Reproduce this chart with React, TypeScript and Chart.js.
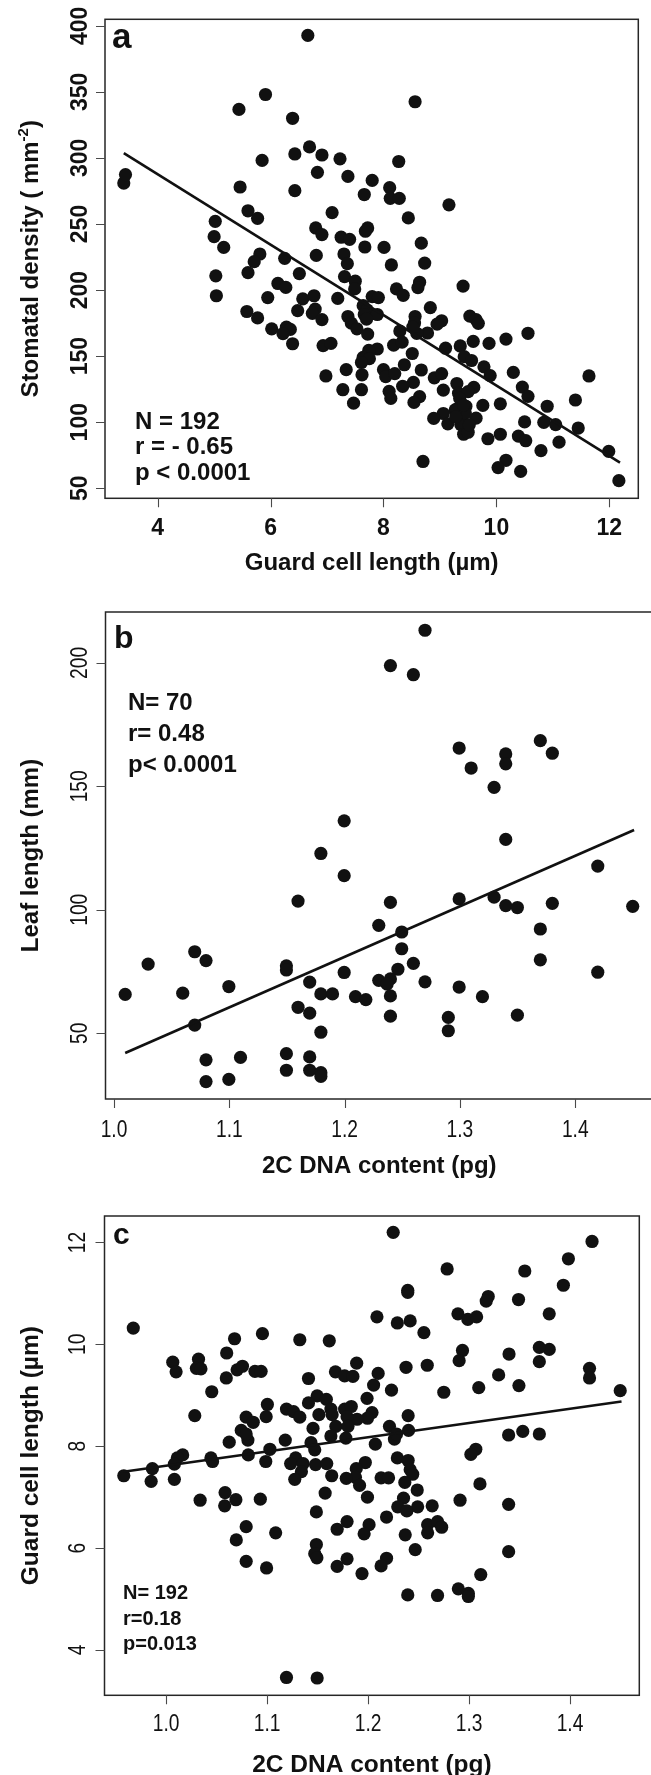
import React, { useEffect, useRef } from "react";
import { Chart, registerables } from "chart.js";
Chart.register(...registerables);

// ---------------- Panel a: guard cell length vs stomatal density ----------------
const aGuardCell = [
  3.40, 3.43, 6.66, 5.91, 5.44, 8.56, 6.39, 6.69, 6.43, 6.91, 5.85, 7.23, 8.27, 6.83, 7.37, 7.80,
  5.46, 6.43, 7.66, 8.11, 8.12, 8.28, 9.16, 5.60, 5.77, 7.09, 8.44, 5.02, 6.80, 6.91, 7.72, 7.68,
  5.00, 7.25, 7.40, 5.17, 7.67, 8.01, 8.67, 5.81, 5.71, 6.25, 6.81, 7.30, 7.36, 8.14, 8.73, 5.60,
  6.51, 5.03, 7.31, 7.50, 8.64, 8.61, 8.23, 9.41, 7.49, 6.13, 6.27, 5.04, 5.95, 6.57, 6.77, 7.19,
  7.80, 7.91, 8.35, 5.58, 5.77, 6.48, 6.79, 6.74, 6.91, 7.37, 7.43, 7.64, 7.71, 7.66, 7.89, 8.83,
  8.56, 8.55, 9.03, 8.95, 9.53, 9.64, 9.68, 6.02, 6.28, 6.35, 6.22, 7.53, 7.72, 8.29, 8.78, 8.59,
  10.56, 10.17, 6.39, 6.93, 7.07, 8.18, 8.33, 9.87, 9.59, 9.36, 9.10, 7.89, 7.74, 8.51, 7.64, 7.75,
  7.61, 9.43, 9.56, 8.37, 9.78, 7.34, 8.00, 8.67, 10.30, 11.64, 6.98, 7.62, 8.04, 8.20, 8.90, 9.03,
  9.89, 8.53, 9.30, 8.34, 10.46, 9.60, 7.28, 7.61, 9.06, 8.10, 9.33, 9.50, 10.56, 8.64, 8.13, 11.40,
  7.47, 8.54, 9.76, 10.07, 10.90, 9.27, 9.46, 9.06, 8.89, 9.14, 9.39, 9.64, 9.37, 10.50, 10.84, 11.05,
  11.45, 9.42, 9.50, 9.85, 10.07, 10.39, 10.52, 11.11, 10.79, 11.99, 8.70, 10.17, 10.03, 10.43, 12.17,
  9.30, 9.45, 9.35, 9.52, 9.28, 9.42, 7.70, 8.52,
];
const aDensity = [
  281, 287.4, 392.7, 348, 336.7, 342.5, 330, 308.3, 303, 302.2, 298.1, 299.3, 297.3, 289.1, 286, 283,
  278, 275.2, 272.3, 277.5, 269.4, 269.4, 264.5, 260, 254.3, 258.6, 254.6, 252, 247, 242, 247, 244.5,
  240.4, 240, 238.4, 232.3, 232.6, 232.3, 235.5, 227.3, 221.5, 224, 226.2, 227.3, 220, 219, 220.4, 213.2,
  212.5, 210.8, 210.2, 206.7, 205.9, 201.8, 200.9, 203, 200.9, 205, 202, 195.7, 194.3, 193.4, 195.7, 193.7,
  195.1, 194.3, 196, 183.8, 178.9, 184.4, 185.6, 182.4, 177.7, 180, 175, 188.2, 185, 181.5, 181.5, 186.7,
  180, 175, 176.8, 174.2, 180.3, 177.7, 174.8, 170.7, 171.9, 170.2, 167, 170.7, 166.7, 169, 167.5, 167.3,
  167.3, 162.9, 159.4, 158, 159.7, 158.3, 160.6, 159.7, 161.2, 157.7, 156, 155.4, 154.3, 152, 149, 148.1,
  145.2, 149.6, 146.7, 143.5, 141.9, 139.8, 139.8, 139.5, 137.7, 135, 135, 135.9, 134.5, 136.8, 133.6, 136.8,
  135.3, 130.1, 129.3, 127.2, 126.6, 126.4, 124.6, 124.6, 124.3, 123.4, 122, 123.2, 119.6, 119.4, 118, 116.8,
  114.4, 115, 112.7, 113.9, 112.1, 109.3, 112.1, 106.6, 102.9, 98.8, 104, 103.1, 98.2, 100.2, 99.9, 98.2,
  95.6, 90.9, 92.4, 87.5, 90.9, 89.5, 86, 84.9, 78.5, 77.9, 70.3, 71.2, 65.7, 62.8, 55.8,
  110, 107, 118, 98, 104, 113, 178, 172,
];
const aFitX = [3.40, 12.19];
const aFitY = [303.6, 69.4];
const aXTicks = [4, 6, 8, 10, 12];
const aYTicks = [50, 100, 150, 200, 250, 300, 350, 400];
const aNotes = ["N = 192", "r = - 0.65", "p < 0.0001"];

// ---------------- Panel b: 2C DNA content vs leaf length ----------------
const bDNA = [
  1.2697, 1.2397, 1.2596, 1.2993, 1.3097, 1.3397, 1.3397, 1.3697, 1.3801, 1.3296, 1.1996, 1.3397,
  1.1794, 1.1996, 1.4195, 1.1596, 1.2397, 1.2993, 1.3296, 1.3397, 1.3498, 1.3801, 1.4498, 1.2296,
  1.2495, 1.3697, 1.2495, 1.0700, 1.0798, 1.0296, 1.2596, 1.3697, 1.1495, 1.1495, 1.1996, 1.2462,
  1.4195, 1.2296, 1.2397, 1.2368, 1.1697, 1.2697, 1.0097, 1.0596, 1.0996, 1.2993, 1.1794, 1.1895,
  1.2094, 1.2184, 1.2397, 1.3195, 1.1596, 1.1697, 1.2397, 1.2899, 1.3498, 1.0700, 1.1794, 1.2899,
  1.1495, 1.1097, 1.0798, 1.1697, 1.1495, 1.1697, 1.1794, 1.1794, 1.0996, 1.0798,
];
const bLeafLength = [
  213.2, 198.9, 195.2, 165.5, 157.4, 163.1, 159.1, 168.5, 163.4, 149.6, 136.0, 128.5,
  122.8, 113.8, 117.7, 103.5, 103.0, 104.4, 105.1, 101.7, 100.9, 102.6, 101.4, 93.7,
  91.0, 92.2, 84.2, 83.0, 79.4, 78.0, 78.3, 79.7, 77.3, 75.6, 74.6, 75.9,
  74.7, 71.4, 72.0, 69.9, 70.7, 70.8, 65.7, 66.2, 68.9, 68.7, 65.9, 65.9,
  64.8, 63.6, 65.1, 64.8, 60.5, 58.1, 56.9, 56.4, 57.3, 53.3, 50.4, 51.0,
  41.7, 40.2, 39.2, 40.4, 35.0, 35.0, 34.0, 32.5, 31.3, 30.4,
];
const bFitX = [1.0097, 1.451];
const bFitY = [42.0, 132.3];
const bXTicks = [1.0, 1.1, 1.2, 1.3, 1.4];
const bYTicks = [50, 100, 150, 200];
const bNotes = ["N= 70", "r= 0.48", "p< 0.0001"];

// ---------------- Panel c: 2C DNA content vs guard cell length ----------------
const cDNA = [
  1.2249, 1.4218, 1.3984, 1.2783, 1.3552, 1.3934, 1.2393, 1.2393, 1.3190, 1.3170, 1.3490, 1.2890,
  1.2988, 1.3075, 1.3794, 1.2088, 1.2290, 1.2417, 1.2553, 0.9675, 1.0954, 1.0678, 1.1324, 1.1616,
  1.3794, 1.3696, 1.2935, 1.3396, 1.0600, 1.0066, 1.0099, 1.0321, 1.0300, 1.0345, 1.2902, 1.3696,
  1.2376, 1.2586, 1.1887, 1.0703, 1.0756, 1.0596, 1.0880, 1.0941, 1.1677, 1.1768, 1.1850, 1.2100,
  1.4193, 1.4193, 1.3293, 1.1410, 1.2055, 1.3494, 1.3096, 1.2232, 1.2750, 1.4497, 1.0452, 1.1990,
  1.1496, 1.1587, 1.1410, 1.1003, 1.1192, 1.1262, 1.1324, 1.1632, 1.1768, 1.1834, 1.1644, 1.1513,
  1.2039, 1.1994, 1.1891, 1.1792, 1.2397, 1.0991, 1.0793, 1.0284, 1.0863, 1.2212, 1.2401, 1.1455,
  1.1681, 1.1801, 1.0744, 1.0810, 1.0793, 1.2261, 1.2282, 1.1780, 1.1632, 1.3392, 1.3532, 1.3696,
  1.1180, 1.0625, 1.2072, 1.1435, 1.1472, 1.1028, 1.3067, 1.3018, 1.0164, 1.0111, 1.0082, 1.0444,
  1.0460, 1.0814, 1.0987, 1.1283, 1.1233, 1.1357, 1.1480, 1.1591, 1.2290, 1.2397, 1.1973, 0.9864,
  0.9581, 0.9852, 1.0082, 1.1340, 1.1274, 1.1640, 1.1883, 1.1875, 1.1784, 1.2129, 1.2203, 1.2417,
  1.2442, 1.2364, 1.1916, 1.3108, 1.2487, 1.0584, 1.1575, 1.1994, 1.0337, 1.0691, 1.0933, 1.0580,
  1.2911, 1.2351, 1.2294, 1.2491, 1.2384, 1.2635, 1.3392, 1.1488, 1.2183, 1.1792, 1.1694, 1.2590,
  1.2688, 1.2729, 1.2590, 1.2010, 1.0793, 1.1085, 1.1961, 1.2368, 1.0695, 1.1488, 1.2467, 1.3392,
  1.1472, 1.1493, 1.1792, 1.0793, 1.2183, 1.2129, 1.0995, 1.1694, 1.1940, 1.3116, 1.2894, 1.2993,
  1.2993, 1.2393, 1.2688, 1.1192, 1.1496,
];
const cGuardCell = [
  12.20, 12.02, 11.68, 11.48, 11.44, 11.16, 11.06, 11.02, 10.94, 10.85, 10.88, 10.60,
  10.49, 10.54, 10.60, 10.54, 10.42, 10.46, 10.23, 10.32, 10.21, 10.11, 10.09, 10.07,
  9.90, 9.94, 9.88, 9.81, 9.83, 9.65, 9.46, 9.71, 9.53, 9.52, 9.68, 9.66,
  9.55, 9.59, 9.63, 9.50, 9.57, 9.34, 9.47, 9.47, 9.46, 9.38, 9.37, 9.43,
  9.53, 9.34, 9.40, 9.33, 9.20, 9.19, 9.15, 9.10, 9.06, 9.09, 9.07, 8.94,
  8.99, 8.92, 8.85, 8.82, 8.73, 8.68, 8.57, 8.73, 8.73, 8.78, 8.62, 8.62,
  8.66, 8.55, 8.53, 8.58, 8.60, 8.58, 8.57, 8.60, 8.47, 8.39, 8.31, 8.35,
  8.39, 8.39, 8.31, 8.12, 8.24, 8.14, 8.24, 8.16, 8.20, 8.22, 8.29, 8.24,
  8.12, 8.08, 8.04, 8.07, 7.93, 7.94, 7.94, 7.84, 7.83, 7.77, 7.65, 7.77,
  7.70, 7.83, 7.70, 7.77, 7.66, 7.66, 7.64, 7.66, 7.77, 7.72, 7.68, 7.56,
  7.42, 7.31, 7.35, 7.50, 7.35, 7.42, 7.56, 7.39, 7.37, 7.38, 7.38, 7.54,
  7.45, 7.29, 7.23, 7.26, 7.14, 7.09, 7.08, 7.00, 6.94, 6.95, 6.96, 6.83,
  6.94, 6.98, 6.81, 6.81, 6.73, 6.83, 6.86, 6.71, 6.61, 6.52, 6.37, 6.46,
  6.52, 6.41, 6.30, 6.46, 6.42, 6.30, 6.28, 6.26, 6.16, 6.07, 5.97, 5.93,
  5.89, 5.81, 5.79, 5.74, 5.80, 5.65, 5.61, 5.64, 5.50, 5.48, 5.20, 5.11,
  5.05, 5.08, 5.07, 3.46, 3.45,
];
const cFitX = [0.9577, 1.451];
const cFitY = [7.50, 8.878];
const cXTicks = [1.0, 1.1, 1.2, 1.3, 1.4];
const cYTicks = [4, 6, 8, 10, 12];
const cNotes = ["N= 192", "r=0.18", "p=0.013"];

// ---------------- drawing helpers ----------------
const FAM = '"Liberation Sans", Arial, Helvetica, sans-serif';
const bold = (s: number) => `bold ${s}px ${FAM}`;
const plain = (s: number) => `${s}px ${FAM}`;
const INK = "#111111";

type Spec = {
  letter: string; letterSize: number; letterX: number; letterY: number;
  notes: string[]; noteSize: number; noteX: number; noteY0: number; noteGap: number;
  xTicks: number[]; yTicks: number[]; tickBold: boolean; tickSize: number; narrow: number;
  xTickBase: number; yTickBase: number; fmt: (v: number) => string;
  xTitle: string; xTitleBase: number;
  yTitle: string; yTitleSup?: string; yTitleTail?: string; yTitleBase: number;
  titleSize: number;
};

function drawText(ctx: CanvasRenderingContext2D, txt: string, x: number, y: number, rot: boolean, sx: number) {
  ctx.save();
  ctx.translate(x, y);
  if (rot) ctx.rotate(-Math.PI / 2);
  ctx.scale(sx, 1);
  ctx.textAlign = "center";
  ctx.textBaseline = "alphabetic";
  ctx.fillText(txt, 0, 0);
  ctx.restore();
}

function decorPlugin(spec: Spec) {
  return {
    id: "decor",
    afterDraw(chart: any) {
      const { ctx, chartArea: ca } = chart;
      const xs = chart.scales.x;
      const ys = chart.scales.y;
      ctx.save();
      // box
      ctx.strokeStyle = "#262626";
      ctx.lineWidth = 1.5;
      ctx.strokeRect(ca.left, ca.top, ca.right - ca.left, ca.bottom - ca.top);
      // ticks
      ctx.strokeStyle = "#4a4a4a";
      ctx.lineWidth = 1.1;
      ctx.beginPath();
      for (const v of spec.xTicks) {
        const px = Math.round(xs.getPixelForValue(v)) + 0.5;
        ctx.moveTo(px, ca.bottom);
        ctx.lineTo(px, ca.bottom + 9);
      }
      for (const v of spec.yTicks) {
        const py = Math.round(ys.getPixelForValue(v)) + 0.5;
        ctx.moveTo(ca.left, py);
        ctx.lineTo(ca.left - 9, py);
      }
      ctx.stroke();
      // tick labels
      ctx.fillStyle = INK;
      ctx.font = spec.tickBold ? bold(spec.tickSize) : plain(spec.tickSize);
      for (const v of spec.xTicks) {
        drawText(ctx, spec.fmt(v), xs.getPixelForValue(v), spec.xTickBase, false, spec.narrow);
      }
      for (const v of spec.yTicks) {
        drawText(ctx, spec.fmt(v), spec.yTickBase, ys.getPixelForValue(v), true, spec.narrow);
      }
      // axis titles
      ctx.font = bold(spec.titleSize);
      const cx = (ca.left + Math.min(ca.right, 653)) / 2;
      drawText(ctx, spec.xTitle, cx, spec.xTitleBase, false, 1);
      const cy = (ca.top + ca.bottom) / 2;
      if (spec.yTitleSup) {
        const mainW = ctx.measureText(spec.yTitle).width;
        const tailW = ctx.measureText(spec.yTitleTail || "").width;
        ctx.font = bold(Math.round(spec.titleSize * 0.62));
        const supW = ctx.measureText(spec.yTitleSup).width;
        const total = mainW + supW + tailW;
        ctx.save();
        ctx.translate(spec.yTitleBase, cy);
        ctx.rotate(-Math.PI / 2);
        ctx.textBaseline = "alphabetic";
        ctx.textAlign = "left";
        let x0 = -total / 2;
        ctx.font = bold(spec.titleSize);
        ctx.fillText(spec.yTitle, x0, 0);
        x0 += mainW;
        ctx.font = bold(Math.round(spec.titleSize * 0.62));
        ctx.fillText(spec.yTitleSup, x0, -spec.titleSize * 0.42);
        x0 += supW;
        ctx.font = bold(spec.titleSize);
        ctx.fillText(spec.yTitleTail || "", x0, 0);
        ctx.restore();
      } else {
        drawText(ctx, spec.yTitle, spec.yTitleBase, cy, true, 1);
      }
      // panel letter
      ctx.font = bold(spec.letterSize);
      ctx.textAlign = "left";
      ctx.textBaseline = "alphabetic";
      ctx.fillText(spec.letter, spec.letterX, spec.letterY);
      // statistics
      ctx.font = bold(spec.noteSize);
      spec.notes.forEach((t, i) => ctx.fillText(t, spec.noteX, spec.noteY0 + i * spec.noteGap));
      ctx.restore();
    },
  };
}

type PanelProps = {
  top: number; width: number; height: number;
  padding: { left: number; right: number; top: number; bottom: number };
  xs: number[]; ys: number[]; fitX: number[]; fitY: number[];
  xMin: number; xMax: number; yMin: number; yMax: number;
  spec: Spec;
};

function Panel(p: PanelProps) {
  const ref = useRef<HTMLCanvasElement | null>(null);
  useEffect(() => {
    if (!ref.current) return;
    const pts = p.xs.map((x, i) => ({ x, y: p.ys[i] }));
    const fit = p.fitX.map((x, i) => ({ x, y: p.fitY[i] }));
    const chart = new Chart(ref.current, {
      type: "scatter",
      data: {
        datasets: [
          {
            data: pts,
            pointRadius: 6.6,
            pointBackgroundColor: INK,
            pointBorderWidth: 0,
            pointBorderColor: INK,
            order: 2,
          } as any,
          {
            type: "line",
            data: fit,
            showLine: true,
            borderColor: INK,
            borderWidth: 2.6,
            pointRadius: 0,
            fill: false,
            order: 1,
          } as any,
        ],
      },
      options: {
        animation: false,
        responsive: false,
        devicePixelRatio: 1,
        events: [],
        layout: { padding: p.padding },
        plugins: { legend: { display: false }, tooltip: { enabled: false } },
        scales: {
          x: { type: "linear", min: p.xMin, max: p.xMax, display: false },
          y: { type: "linear", min: p.yMin, max: p.yMax, display: false },
        },
      },
      plugins: [decorPlugin(p.spec)],
    });
    return () => chart.destroy();
  }, []);
  return (
    <canvas
      ref={ref}
      width={p.width}
      height={p.height}
      style={{ position: "absolute", left: 0, top: p.top, width: p.width, height: p.height }}
    />
  );
}

const intFmt = (v: number) => String(v);
const decFmt = (v: number) => v.toFixed(1);

export default function App() {
  return (
    <div
      style={{
        position: "absolute",
        left: 0,
        top: 0,
        width: 651,
        height: 1775,
        overflow: "hidden",
        background: "#ffffff",
      }}
    >
      <Panel
        top={0}
        width={651}
        height={590}
        padding={{ left: 105, right: 12.7, top: 19.3, bottom: 91.7 }}
        xs={aGuardCell}
        ys={aDensity}
        fitX={aFitX}
        fitY={aFitY}
        xMin={3.067}
        xMax={12.514}
        yMin={42.43}
        yMax={404.9}
        spec={{
          letter: "a", letterSize: 35, letterX: 112, letterY: 48,
          notes: aNotes, noteSize: 24, noteX: 135, noteY0: 429, noteGap: 25.3,
          xTicks: aXTicks, yTicks: aYTicks, tickBold: true, tickSize: 23, narrow: 1,
          xTickBase: 535, yTickBase: 87, fmt: intFmt,
          xTitle: "Guard cell length (µm)", xTitleBase: 570,
          yTitle: "Stomatal density ( mm", yTitleSup: "-2", yTitleTail: ")", yTitleBase: 38,
          titleSize: 24,
        }}
      />
      <Panel
        top={590}
        width={660}
        height={590}
        padding={{ left: 105.5, right: 7, top: 22, bottom: 81 }}
        xs={bDNA}
        ys={bLeafLength}
        fitX={bFitX}
        fitY={bFitY}
        xMin={0.99263}
        xMax={1.4674}
        yMin={23.35}
        yMax={220.6}
        spec={{
          letter: "b", letterSize: 32, letterX: 114, letterY: 57.7,
          notes: bNotes, noteSize: 24, noteX: 128, noteY0: 119.5, noteGap: 31.4,
          xTicks: bXTicks, yTicks: bYTicks, tickBold: false, tickSize: 24, narrow: 0.8,
          xTickBase: 546.7, yTickBase: 87, fmt: (v: number) => (v >= 10 ? intFmt(v) : decFmt(v)),
          xTitle: "2C DNA content (pg)", xTitleBase: 582.7,
          yTitle: "Leaf length (mm)", yTitleBase: 38,
          titleSize: 24,
        }}
      />
      <Panel
        top={1180}
        width={651}
        height={595}
        padding={{ left: 104.5, right: 11.7, top: 36, bottom: 79.7 }}
        xs={cDNA}
        ys={cGuardCell}
        fitX={cFitX}
        fitY={cFitY}
        xMin={0.939}
        xMax={1.4686}
        yMin={3.11}
        yMax={12.52}
        spec={{
          letter: "c", letterSize: 30, letterX: 113, letterY: 64.3,
          notes: cNotes, noteSize: 20, noteX: 123, noteY0: 419.2, noteGap: 25.5,
          xTicks: cXTicks, yTicks: cYTicks, tickBold: false, tickSize: 24, narrow: 0.8,
          xTickBase: 550.6, yTickBase: 85, fmt: (v: number) => (v < 2 ? decFmt(v) : intFmt(v)),
          xTitle: "2C DNA content (pg)", xTitleBase: 591.8,
          yTitle: "Guard cell length (µm)", yTitleBase: 38,
          titleSize: 24.5,
        }}
      />
    </div>
  );
}
